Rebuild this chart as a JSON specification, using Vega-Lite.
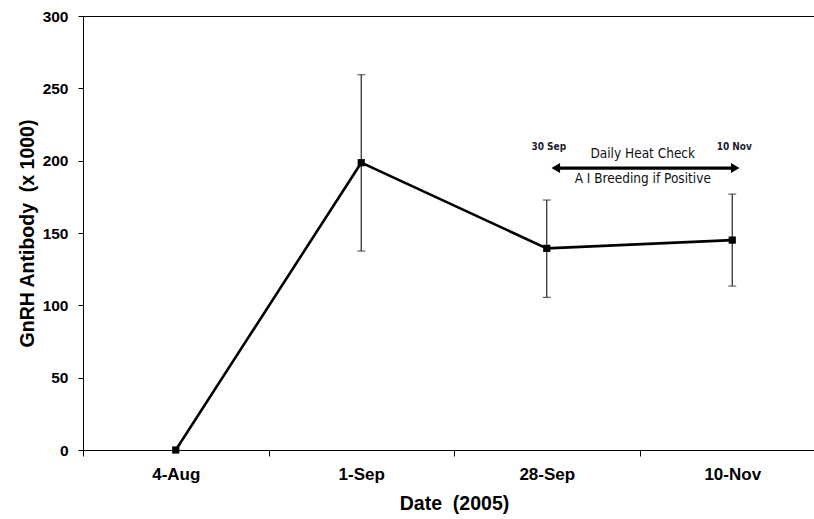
{
  "$schema": "https://vega.github.io/schema/vega-lite/v6.json",
  "width": 742,
  "height": 434,
  "autosize": {"type": "none"},
  "padding": {"left": 83, "top": 16, "right": 0, "bottom": 69},
  "background": "white",
  "config": {
    "view": {"stroke": "black", "strokeWidth": 1},
    "axis": {
      "grid": false,
      "domainColor": "black",
      "tickColor": "black",
      "labelColor": "black",
      "titleColor": "black",
      "labelFont": "Liberation Sans",
      "titleFont": "Liberation Sans",
      "labelFontWeight": "bold",
      "titleFontWeight": "bold",
      "titleFontSize": 19.5
    }
  },
  "datasets": {
    "main": [
      {"date": "4-Aug", "value": 0, "lo": null, "hi": null},
      {"date": "1-Sep", "value": 198.6, "lo": 137.5, "hi": 259.4},
      {"date": "28-Sep", "value": 139.4, "lo": 105.5, "hi": 172.8},
      {"date": "10-Nov", "value": 145.1, "lo": 113.3, "hi": 176.9}
    ],
    "arrow": [
      {"from": "28-Sep", "to": "10-Nov", "y": 194.9}
    ],
    "ends": [
      {"date": "28-Sep", "label": "30 Sep", "ly": 209.4},
      {"date": "10-Nov", "label": "10 Nov", "ly": 209.4}
    ],
    "mid": [
      {"date": "28-Sep", "label": "Daily Heat Check", "y": 204.5},
      {"date": "28-Sep", "label": "A I Breeding if Positive", "y": 187.5}
    ]
  },
  "layer": [
    {
      "data": {"name": "main"},
      "transform": [{"filter": "datum.lo != null"}],
      "mark": {"type": "rule", "color": "#222222", "strokeWidth": 1.2},
      "encoding": {
        "x": {"field": "date", "type": "nominal",
          "scale": {"type": "band", "domain": ["4-Aug", "1-Sep", "28-Sep", "10-Nov"], "paddingInner": 0, "paddingOuter": 0},
          "axis": {"title": "Date \u00a0(2005)", "labelAngle": 0, "labelFontSize": 17, "tickBand": "extent", "tickSize": 6, "labelPadding": 10, "titlePadding": 12}},
        "y": {"field": "lo", "type": "quantitative",
          "scale": {"domain": [0, 300], "nice": false},
          "axis": {"title": "GnRH Antibody \u00a0(x 1000)", "labelFontSize": 15.5, "values": [0, 50, 100, 150, 200, 250, 300], "tickSize": 5, "labelPadding": 10, "titlePadding": 5}},
        "y2": {"field": "hi"}
      }
    },
    {
      "data": {"name": "main"},
      "transform": [{"filter": "datum.lo != null"}],
      "mark": {"type": "tick", "color": "#222222", "thickness": 1.2, "size": 8},
      "encoding": {
        "x": {"field": "date", "type": "nominal"},
        "y": {"field": "lo", "type": "quantitative"}
      }
    },
    {
      "data": {"name": "main"},
      "transform": [{"filter": "datum.lo != null"}],
      "mark": {"type": "tick", "color": "#222222", "thickness": 1.2, "size": 8},
      "encoding": {
        "x": {"field": "date", "type": "nominal"},
        "y": {"field": "hi", "type": "quantitative"}
      }
    },
    {
      "data": {"name": "main"},
      "mark": {"type": "line", "color": "black", "strokeWidth": 2.6},
      "encoding": {
        "x": {"field": "date", "type": "nominal"},
        "y": {"field": "value", "type": "quantitative"}
      }
    },
    {
      "data": {"name": "main"},
      "mark": {"type": "point", "shape": "square", "filled": true, "color": "black", "size": 52, "opacity": 1},
      "encoding": {
        "x": {"field": "date", "type": "nominal"},
        "y": {"field": "value", "type": "quantitative"}
      }
    },
    {
      "data": {"name": "arrow"},
      "mark": {"type": "rule", "color": "black", "strokeWidth": 3.2, "xOffset": 9, "x2Offset": 3},
      "encoding": {
        "x": {"field": "from", "type": "nominal"},
        "x2": {"field": "to"},
        "y": {"field": "y", "type": "quantitative"}
      }
    },
    {
      "data": {"name": "arrow"},
      "mark": {"type": "point", "shape": "triangle-left", "filled": true, "color": "black", "size": 100, "opacity": 1, "xOffset": 9},
      "encoding": {
        "x": {"field": "from", "type": "nominal"},
        "y": {"field": "y", "type": "quantitative"}
      }
    },
    {
      "data": {"name": "arrow"},
      "mark": {"type": "point", "shape": "triangle-right", "filled": true, "color": "black", "size": 100, "opacity": 1, "xOffset": 3},
      "encoding": {
        "x": {"field": "to", "type": "nominal"},
        "y": {"field": "y", "type": "quantitative"}
      }
    },
    {
      "data": {"name": "ends"},
      "mark": {"type": "text", "font": "DejaVu Sans Condensed", "fontWeight": "bold", "fontSize": 10, "color": "#1c1c30", "dx": 2},
      "encoding": {
        "x": {"field": "date", "type": "nominal"},
        "y": {"field": "ly", "type": "quantitative"},
        "text": {"field": "label"}
      }
    },
    {
      "data": {"name": "mid"},
      "mark": {"type": "text", "font": "DejaVu Sans Condensed", "fontSize": 13.5, "color": "#111111", "dx": 96},
      "encoding": {
        "x": {"field": "date", "type": "nominal"},
        "y": {"field": "y", "type": "quantitative"},
        "text": {"field": "label"}
      }
    }
  ]
}
